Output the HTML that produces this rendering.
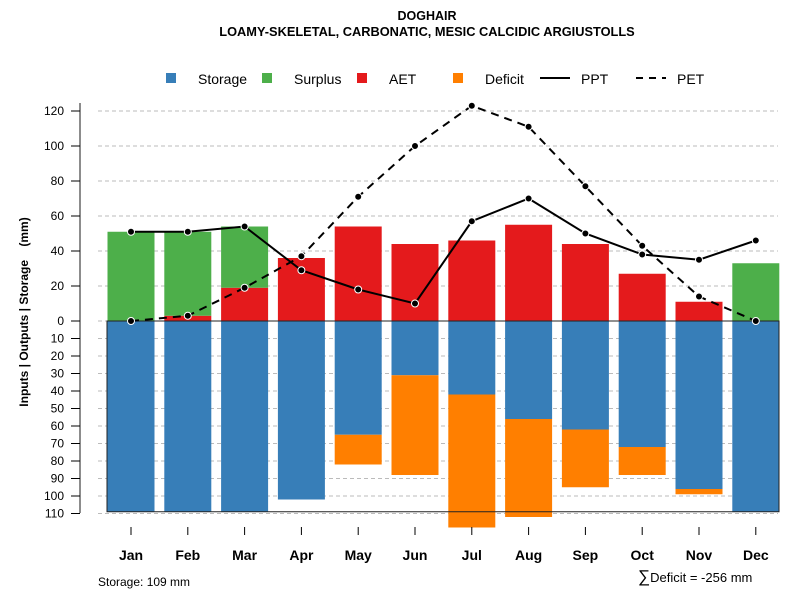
<!DOCTYPE html>
<html><head><meta charset="utf-8"><style>
body{margin:0;background:#fff}
svg{font-family:"Liberation Sans",sans-serif;display:block}
</style></head><body>
<svg id="c" width="800" height="600">
<text x="427" y="20" text-anchor="middle" font-size="12.5" font-weight="bold">DOGHAIR</text>
<text x="427" y="36" text-anchor="middle" font-size="12.8" font-weight="bold">LOAMY-SKELETAL, CARBONATIC, MESIC CALCIDIC ARGIUSTOLLS</text>
<g id="legend">
<rect x="166" y="73" width="10" height="10" fill="#377EB8"/>
<text x="198" y="84" font-size="14">Storage</text>
<rect x="262" y="73" width="10" height="10" fill="#4DAF4A"/>
<text x="294" y="84" font-size="14">Surplus</text>
<rect x="357" y="73" width="10" height="10" fill="#E41A1C"/>
<text x="389" y="84" font-size="14">AET</text>
<rect x="453" y="73" width="10" height="10" fill="#FF7F00"/>
<text x="485" y="84" font-size="14">Deficit</text>
<line x1="540" y1="78" x2="570" y2="78" stroke="#000" stroke-width="2"/>
<text x="581" y="84" font-size="14">PPT</text>
<line x1="636" y1="78" x2="666" y2="78" stroke="#000" stroke-width="2" stroke-dasharray="7,6"/>
<text x="677" y="84" font-size="14">PET</text>
</g>
<text transform="translate(28,312) rotate(-90)" text-anchor="middle" font-size="12" font-weight="bold">Inputs | Outputs | Storage&#160;&#160;&#160;&#160;(mm)</text>
<text x="98" y="586" font-size="12">Storage: 109 mm</text>
<text x="638" y="582" font-size="13"><tspan font-size="17">∑</tspan>Deficit = -256 mm</text>
</svg>
<script>
const months=["Jan","Feb","Mar","Apr","May","Jun","Jul","Aug","Sep","Oct","Nov","Dec"];
const storage=[109,109,109,102,65,31,42,56,62,72,96,109];
const deficit=[0,0,0,0,17,57,76,56,33,16,3,0];
const aet=[0,3,19,36,54,44,46,55,44,27,11,0];
const surplus=[51,48,35,0,0,0,0,0,0,0,0,33];
const ppt=[51,51,54,29,18,10,57,70,50,38,35,46];
const pet=[0,3,19,37,71,100,123,111,77,43,14,0];
const upTicks=[0,20,40,60,80,100,120];
const downTicks=[10,20,30,40,50,60,70,80,90,100,110];
const svg=document.getElementById('c');const NS="http://www.w3.org/2000/svg";
const Y0=321,K=1.75;
const yU=v=>Y0-v*K, yD=v=>Y0+v*K, xM=i=>131+i*56.8;
function mk(t,a,p){const e=document.createElementNS(NS,t);for(const k in a)e.setAttribute(k,a[k]);(p||svg).appendChild(e);return e;}
const g=mk('g',{});


upTicks.concat(downTicks.map(v=>-v)).forEach(v=>{
 const y=v>=0?yU(v):yD(-v);
 const l=mk('line',{x1:98,x2:778,y1:y,y2:y,stroke:'#bbb','stroke-dasharray':'4,3'},g);
 
 
});
const ax=mk('line',{x1:80,x2:80,y1:103,y2:513,stroke:'#666','stroke-width':1.5},g);


upTicks.forEach(v=>{
 mk('line',{x1:71,x2:80,y1:yU(v),y2:yU(v),stroke:'#000'},g);
 const t=mk('text',{x:64,y:yU(v)+4,'text-anchor':'end','font-size':12},g);t.textContent=v;
 
 
});
downTicks.forEach(v=>{
 mk('line',{x1:71,x2:80,y1:yD(v),y2:yD(v),stroke:'#000'},g);
 const t=mk('text',{x:64,y:yD(v)+4,'text-anchor':'end','font-size':12},g);t.textContent=v;
 
 
});
const W=47;
months.forEach((m,i)=>{
 const x=xM(i)-W/2;
 let r=mk('rect',{x:x,y:Y0,width:W,height:storage[i]*K,fill:'#377EB8'},g);
 
 
 if(deficit[i]>0){r=mk('rect',{x:x,y:yD(storage[i]),width:W,height:deficit[i]*K,fill:'#FF7F00'},g);
 
 }
 if(aet[i]>0){r=mk('rect',{x:x,y:yU(aet[i]),width:W,height:aet[i]*K,fill:'#E41A1C'},g);
 
 }
 if(surplus[i]>0){r=mk('rect',{x:x,y:yU(aet[i]+surplus[i]),width:W,height:surplus[i]*K,fill:'#4DAF4A'},g);
 
 }
 mk('line',{x1:xM(i),x2:xM(i),y1:527,y2:535,stroke:'#000'},g);
 const t=mk('text',{x:xM(i),y:560,'text-anchor':'middle','font-size':14,'font-weight':'bold'},g);t.textContent=m;
 
 
});
const bx=mk('rect',{x:107,y:Y0,width:672,height:109*K,fill:'none',stroke:'#222','stroke-width':1},g);


function series(arr,name,dash){
 const p=mk('polyline',{points:arr.map((v,i)=>xM(i)+','+yU(v)).join(' '),fill:'none',stroke:'#000','stroke-width':2,'stroke-dasharray':dash},g);
 
 
 arr.forEach((v,i)=>{const c=mk('circle',{cx:xM(i),cy:yU(v),r:3.5,fill:'#000',stroke:'#fff','stroke-width':1},g);
 
 });
}
series(pet,'pet','8,6');
series(ppt,'ppt','none');
</script>
</body></html>
